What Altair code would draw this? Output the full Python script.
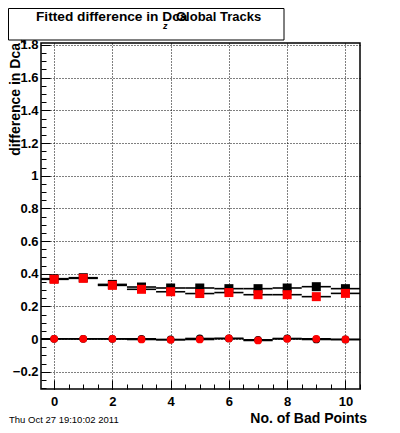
import altair as alt
import pandas as pd

# ---- data ----
n_bad = [0, 1, 2, 3, 4, 5, 6, 7, 8, 9, 10]
sq_black = [0.370, 0.376, 0.335, 0.319, 0.313, 0.313, 0.309, 0.309, 0.313, 0.321, 0.309]
sq_red = [0.366, 0.372, 0.329, 0.305, 0.290, 0.279, 0.285, 0.272, 0.272, 0.260, 0.280]
circ_black = [0.002, 0.002, 0.002, 0.002, -0.002, 0.004, 0.004, -0.004, 0.004, -0.002, -0.002]
circ_red = [0.002, 0.002, 0.002, -0.002, -0.004, -0.002, 0.004, -0.008, 0.002, 0.002, -0.002]

x_major = [0, 2, 4, 6, 8, 10]
x_minor = [i * 0.5 for i in range(0, 22)]
y_major = [-0.2, 0, 0.2, 0.4, 0.6, 0.8, 1, 1.2, 1.4, 1.6, 1.8]
y_minor = [round(-0.3 + 0.05 * i, 2) for i in range(0, 43)]

title_main = "Fitted difference in Dca"
title_sub = "z"
title_tail = "Global Tracks"
y_title = "difference in Dca"
x_title = "No. of Bad Points"
date_text = "Thu Oct 27 19:10:02 2011"

FONT = "Liberation Sans"

def frame(vals, name):
    return pd.DataFrame({"x": n_bad, "y": vals, "series": name})

df_all = pd.concat([frame(sq_black, "sb"), frame(sq_red, "sr"),
                    frame(circ_black, "cb"), frame(circ_red, "cr")])

xs = alt.Scale(domain=[-0.45, 10.5], nice=False, zero=False)
ys = alt.Scale(domain=[-0.305, 1.812], nice=False, zero=False)

x_axis_main = alt.Axis(values=x_major, grid=True, gridDash=[1, 2], gridColor="black",
                       gridOpacity=1, gridWidth=1, ticks=False, tickSize=0, domain=False,
                       labelFont=FONT, labelFontSize=13, labelFontWeight="bold",
                       labelColor="black", labelPadding=6, labelFlush=False,
                       labelOverlap=False, title=None, orient="bottom")
y_axis_main = alt.Axis(values=y_major, grid=True, gridDash=[1, 2], gridColor="black",
                       gridOpacity=1, gridWidth=1, ticks=False, tickSize=0, domain=False,
                       labelFont=FONT, labelFontSize=13, labelFontWeight="bold",
                       labelColor="black", labelPadding=3, labelFlush=False,
                       labelOverlap=False, title=None, orient="left",
                       labelExpr="datum.value == 0 ? '0' : (datum.value == 1 ? '1' : format(datum.value, '.1f'))")

def tick_axis(vals, length, orient):
    return alt.Axis(values=vals, orient=orient, offset=-length, tickSize=length,
                    ticks=True, tickColor="black", tickWidth=1, labels=False,
                    domain=False, grid=False, title=None)

# horizontal bars (bin width) for every series
bars = alt.Chart(df_all).transform_calculate(
    lo="datum.x - 0.5", hi="datum.x + 0.5"
).mark_rule(color="black", strokeWidth=1.6, clip=True).encode(
    x=alt.X("lo:Q", scale=xs, axis=x_axis_main),
    x2="hi:Q",
    y=alt.Y("y:Q", scale=ys, axis=y_axis_main),
)

sq_b = alt.Chart(frame(sq_black, "sb")).mark_point(
    shape="square", filled=True, size=81, color="black", opacity=1, clip=True
).encode(
    x=alt.X("x:Q", scale=xs, axis=tick_axis(x_major, 9, "bottom")),
    y=alt.Y("y:Q", scale=ys, axis=tick_axis(y_major, 9, "left")),
)
sq_r = alt.Chart(frame(sq_red, "sr")).mark_point(
    shape="square", filled=True, size=81, color="#ff0000", opacity=1, clip=True
).encode(
    x=alt.X("x:Q", scale=xs, axis=tick_axis(x_minor, 5, "bottom")),
    y=alt.Y("y:Q", scale=ys, axis=tick_axis(y_minor, 5, "left")),
)
ci_b = alt.Chart(frame(circ_black, "cb")).mark_point(
    shape="circle", filled=True, size=60, color="black", opacity=1, clip=True
).encode(
    x=alt.X("x:Q", scale=xs, axis=None),
    y=alt.Y("y:Q", scale=ys, axis=None),
)
ci_r = alt.Chart(frame(circ_red, "cr")).mark_point(
    shape="circle", filled=True, size=60, color="#ff0000", opacity=1, clip=True
).encode(
    x=alt.X("x:Q", scale=xs, axis=None),
    y=alt.Y("y:Q", scale=ys, axis=None),
)

one = pd.DataFrame({"k": [0]})

title_box = alt.Chart(one).mark_rect(fill="white", stroke="black", strokeWidth=1).encode(
    x=alt.value(-32.5), x2=alt.value(243), y=alt.value(-34.5), y2=alt.value(-3)
)
t_main = alt.Chart(one).mark_text(text=title_main, font=FONT, fontSize=13.7, fontWeight="bold",
                                  align="left", baseline="alphabetic", color="black").encode(
    x=alt.value(-5), y=alt.value(-22))
t_sub = alt.Chart(one).mark_text(text=title_sub, font=FONT, fontSize=9, fontWeight="bold",
                                 fontStyle="italic", align="left", baseline="alphabetic",
                                 color="black").encode(x=alt.value(122), y=alt.value(-14))
t_tail = alt.Chart(one).mark_text(text=title_tail, font=FONT, fontSize=13, fontWeight="bold",
                                  align="left", baseline="alphabetic", color="black").encode(
    x=alt.value(135), y=alt.value(-22))

yt = alt.Chart(one).mark_text(text=y_title, font=FONT, fontSize=14, fontWeight="bold",
                              angle=270, align="right", baseline="alphabetic",
                              color="black").encode(x=alt.value(-21.5), y=alt.value(0))
yt_sub = alt.Chart(one).mark_text(text=title_sub, font=FONT, fontSize=9, fontWeight="bold",
                                  fontStyle="italic", angle=270, align="center",
                                  baseline="alphabetic", color="black").encode(
    x=alt.value(-15), y=alt.value(-1))
xt = alt.Chart(one).mark_text(text=x_title, font=FONT, fontSize=14, fontWeight="bold",
                              align="right", baseline="alphabetic", color="black").encode(
    x=alt.value(326), y=alt.value(379.5))
dt = alt.Chart(one).mark_text(text=date_text, font=FONT, fontSize=9.5, fontWeight="normal",
                              align="left", baseline="alphabetic", color="black").encode(
    x=alt.value(-32), y=alt.value(379.5))

chart = alt.layer(
    bars, sq_b, sq_r, ci_b, ci_r, title_box, t_main, t_sub, t_tail, yt, yt_sub, xt, dt
).resolve_axis(x="independent", y="independent").properties(
    width=319, height=346,
    autosize=alt.AutoSizeParams(type="none"),
    padding={"left": 33, "top": 35, "right": 32, "bottom": 36},
    background="white",
).configure_view(stroke="black", strokeWidth=1.5)

chart.save("out.html", embed_options={"renderer": "svg", "actions": False})
